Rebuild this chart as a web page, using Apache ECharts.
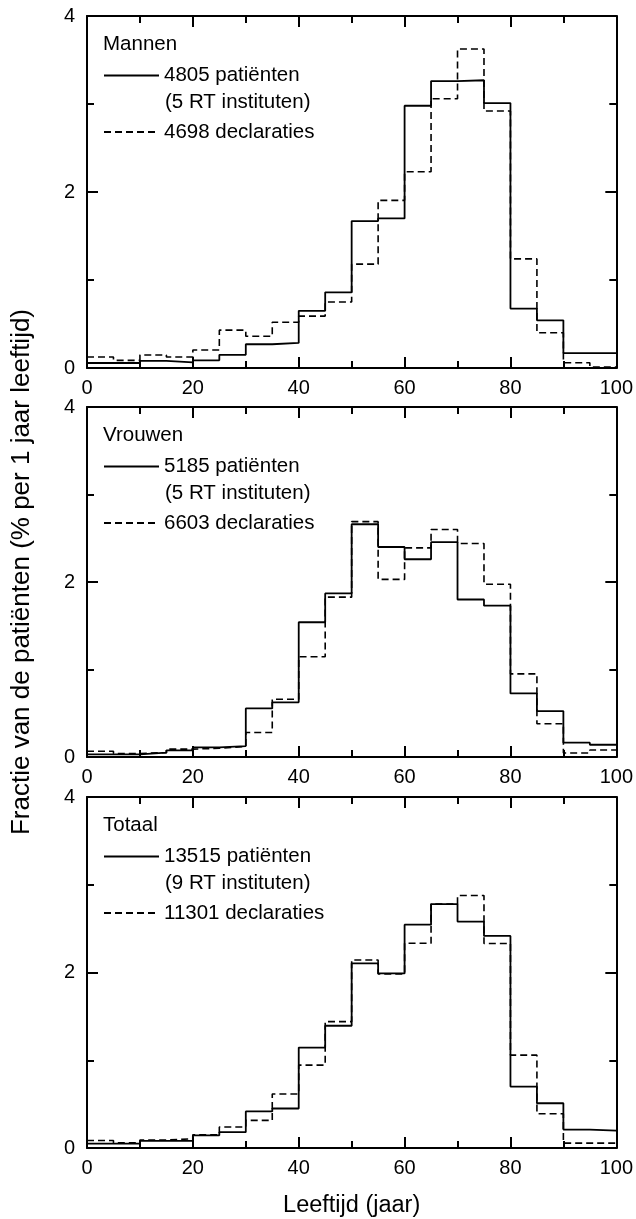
<!DOCTYPE html>
<html><head><meta charset="utf-8">
<script src="https://cdn.jsdelivr.net/npm/echarts@6/dist/echarts.min.js"></script>
<style>html,body{margin:0;padding:0;background:#fff}#c{width:636px;height:1219px}</style>
</head><body><div id="c"></div>
<script>
// Age bin left edges (years); last bin ends at 100
const ageBins = [0,5,10,15,20,25,30,35,40,45,50,55,60,65,70,75,80,85,90,95];
const ageEnd = 100;
const xTicks = [0,20,40,60,80,100];
const yTicks = [0,2,4];

// Mannen
const menPatients = [0.057,0.057,0.08,0.064,0.087,0.15,0.27,0.285,0.65,0.86,1.67,1.70,2.98,3.26,3.27,3.01,0.675,0.542,0.17,0.17];
const menDecl     = [0.125,0.087,0.148,0.125,0.205,0.43,0.36,0.52,0.59,0.75,1.18,1.905,2.23,3.06,3.625,2.92,1.24,0.40,0.06,0.01];
// Vrouwen
const womenPatients = [0.03,0.03,0.05,0.076,0.11,0.125,0.555,0.625,1.54,1.87,2.66,2.40,2.26,2.455,1.80,1.73,0.727,0.525,0.164,0.14];
const womenDecl     = [0.065,0.04,0.05,0.09,0.10,0.12,0.28,0.66,1.145,1.827,2.69,2.03,2.39,2.60,2.44,1.975,0.95,0.38,0.045,0.08];
// Totaal
const totalPatients = [0.05,0.05,0.082,0.082,0.144,0.18,0.417,0.45,1.145,1.393,2.105,1.99,2.545,2.78,2.58,2.417,0.70,0.51,0.21,0.198];
const totalDecl     = [0.085,0.06,0.09,0.105,0.15,0.24,0.315,0.615,0.944,1.44,2.143,1.983,2.333,2.78,2.877,2.33,1.058,0.39,0.055,0.055];

const panelTitles = ['Mannen','Vrouwen','Totaal'];
const solidNames = ['4805 patiënten','5185 patiënten','13515 patiënten'];
const solidSub = ['(5 RT instituten)','(5 RT instituten)','(9 RT instituten)'];
const dashNames = ['4698 declaraties','6603 declaraties','11301 declaraties'];
const solidData = [menPatients, womenPatients, totalPatients];
const dashData = [menDecl, womenDecl, totalDecl];
const xTitle = 'Leeftijd (jaar)';
const yTitle = 'Fractie van de patiënten (% per 1 jaar leeftijd)';

// layout
const tops = [16, 407, 797];
const heights = [352, 350, 351];
const L = 87, W = 530;
const FONT = '"Liberation Sans", Arial, sans-serif';

function steps(vals){
  const d = ageBins.map((a,i)=>[a, vals[i]]);
  d.push([ageEnd, vals[vals.length-1]]);
  return d;
}

const grid=[], xAxis=[], yAxis=[], series=[], legend=[], graphic=[];
const axisLineStyle = {color:'#000', width:2};
for (let g=0; g<3; g++){
  grid.push({left:L, top:tops[g], width:W, height:heights[g]});
  const common = {
    min:0, max:100, interval:20, gridIndex:g,
    axisLine:{show:true, onZero:false, lineStyle:axisLineStyle},
    axisTick:{show:true, inside:true, length:11, lineStyle:{color:'#000', width:2}},
    minorTick:{show:true, splitNumber:2, length:7, lineStyle:{color:'#000', width:2}},
    splitLine:{show:false}, minorSplitLine:{show:false}
  };
  xAxis.push(Object.assign({}, common, {type:'value', position:'bottom',
    axisLabel:{show:true, color:'#000', fontSize:20, fontFamily:FONT, margin:10,
      formatter:v=> xTicks.indexOf(v)>=0 ? String(v) : ''},
    name: g===2 ? xTitle : '', nameLocation:'middle', nameGap:46,
    nameTextStyle:{color:'#000', fontSize:23.5, fontFamily:FONT}}));
  xAxis.push(Object.assign({}, common, {type:'value', position:'top', axisLabel:{show:false}}));
  const ycommon = {
    type:'value', min:0, max:4, interval:2, gridIndex:g,
    axisLine:{show:true, onZero:false, lineStyle:axisLineStyle},
    axisTick:{show:true, inside:true, length:11, lineStyle:{color:'#000', width:2}},
    minorTick:{show:true, splitNumber:2, length:7, lineStyle:{color:'#000', width:2}},
    splitLine:{show:false}, minorSplitLine:{show:false}
  };
  yAxis.push(Object.assign({}, ycommon, {position:'left',
    axisLabel:{show:true, color:'#000', fontSize:20, fontFamily:FONT, margin:12,
      formatter:v=> yTicks.indexOf(v)>=0 ? String(v) : ''}}));
  yAxis.push(Object.assign({}, ycommon, {position:'right', axisLabel:{show:false}}));

  series.push({type:'line', name:solidNames[g], step:'end', symbol:'none',
    xAxisIndex:2*g, yAxisIndex:2*g, data:steps(solidData[g]),
    lineStyle:{color:'#000', width:1.8, type:'solid'}, itemStyle:{color:'#000'}});
  series.push({type:'line', name:dashNames[g], step:'end', symbol:'none',
    xAxisIndex:2*g, yAxisIndex:2*g, data:steps(dashData[g]),
    lineStyle:{color:'#000', width:1.6, type:[7,4]}, itemStyle:{color:'#000'}});

  const T = tops[g];
  legend.push({data:[solidNames[g], dashNames[g]], orient:'vertical', left:103, top:T+49,
    padding:0, itemWidth:55, itemHeight:20, itemGap:35.5, selectedMode:false,
    itemStyle:{color:'rgba(0,0,0,0)', borderWidth:0, opacity:0},
    textStyle:{color:'#000', fontSize:20.5, fontFamily:FONT, lineHeight:20}});
  graphic.push({type:'text', left:103, top:T+29-11, style:{text:panelTitles[g], fill:'#000', font:'20.5px '+FONT}});
  graphic.push({type:'text', left:165, top:T+87-11, style:{text:solidSub[g], fill:'#000', font:'20.5px '+FONT}});
}
graphic.push({type:'text', x:22, y:572, rotation:Math.PI/2,
  style:{text:yTitle, fill:'#000', font:'26px '+FONT, textAlign:'center', textVerticalAlign:'middle'}});

const chart = echarts.init(document.getElementById('c'), null, {renderer:'canvas'});
chart.setOption({animation:false, backgroundColor:'#fff', grid, xAxis, yAxis, series, legend, graphic});
</script></body></html>
